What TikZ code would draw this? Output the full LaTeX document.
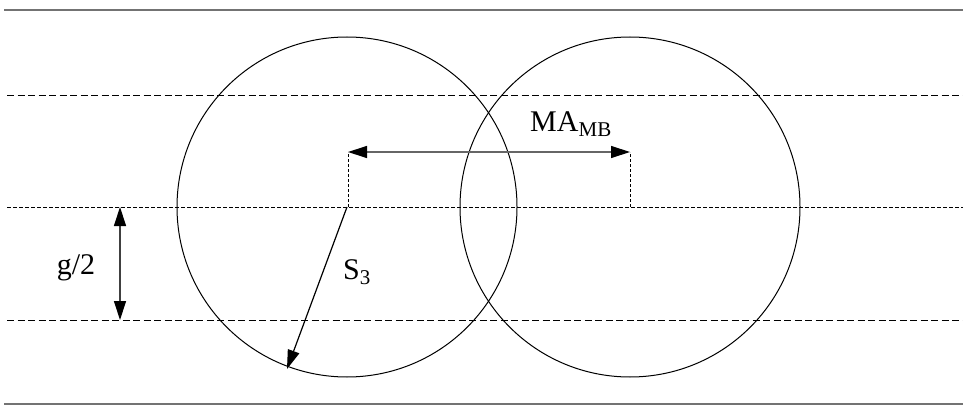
\documentclass[tikz,border=0pt]{standalone}
\usepackage{fontspec}
\setmainfont{Liberation Serif}
\usetikzlibrary{arrows.meta, positioning}

\begin{document}
\begin{tikzpicture}[
    x=1pt, y=-1pt,
    every node/.style={font=\fontsize{30}{36}\selectfont, inner sep=0pt},
    rule/.style={draw=black!55, line width=2pt},
    level/.style={draw, line width=0.8pt, dash pattern=on 7pt off 3.5pt},
    axis/.style={draw, line width=0.8pt, dash pattern=on 4pt off 2pt},
    guide/.style={draw, line width=0.8pt, dash pattern=on 3pt off 2pt},
    ring/.style={draw, line width=1pt},
    tip/.style={Triangle[length=19pt, width=12pt, color=black]},
    arr/.style={-{Triangle[length=19pt, width=12pt, color=black]}, line width=1.2pt},
    darr/.style={{Triangle[length=19pt, width=12pt, color=black]}-{Triangle[length=19pt, width=12pt, color=black]}, line width=1.2pt}
]
    \useasboundingbox (0,0) rectangle (963,406);

    % border lines
    \coordinate (tl) at (4,10);
    \coordinate (tr) at (963,10);
    \coordinate (bl) at (4,404);
    \coordinate (br) at (963,404);
    \draw[rule] (tl) -- (tr);
    \draw[rule] (bl) -- (br);

    % horizontal levels
    \coordinate (upl) at (7,95);
    \coordinate (upr) at (963,95);
    \coordinate (midl) at (7,207);
    \coordinate (midr) at (963,207);
    \coordinate (lowl) at (7,320);
    \coordinate (lowr) at (963,320);
    \draw[level] (upl) -- (upr);
    \draw[axis] (midl) -- (midr);
    \draw[level] (lowl) -- (lowr);

    % circles
    \coordinate (c1) at (347,207);
    \coordinate (c2) at (630,207);
    \draw[ring] (c1) circle[radius=170pt];
    \draw[ring] (c2) circle[radius=170pt];

    % offset between centres
    \coordinate (m1) at (348,152);
    \coordinate (m2) at (630,152);
    \coordinate (m1b) at (348,207);
    \coordinate (m2b) at (630,207);
    \draw[guide] (m1b) -- (m1);
    \draw[guide] (m2b) -- (m2);
    \draw[darr, draw=black!60] (m1) -- (m2);
    \node (ma) at (571,124) {MA\textsubscript{MB}};

    % half gap
    \coordinate (g1) at (120,207);
    \coordinate (g2) at (120,320);
    \draw[darr, draw=black!75] (g1) -- (g2);
    \node (gap) at (76,268) {g/2};

    % radius
    \coordinate (rim) at (287,369);
    \draw[arr] (c1) -- (rim);
    \node (s3) at (357,272) {S\textsubscript{3}};
\end{tikzpicture}
\end{document}
